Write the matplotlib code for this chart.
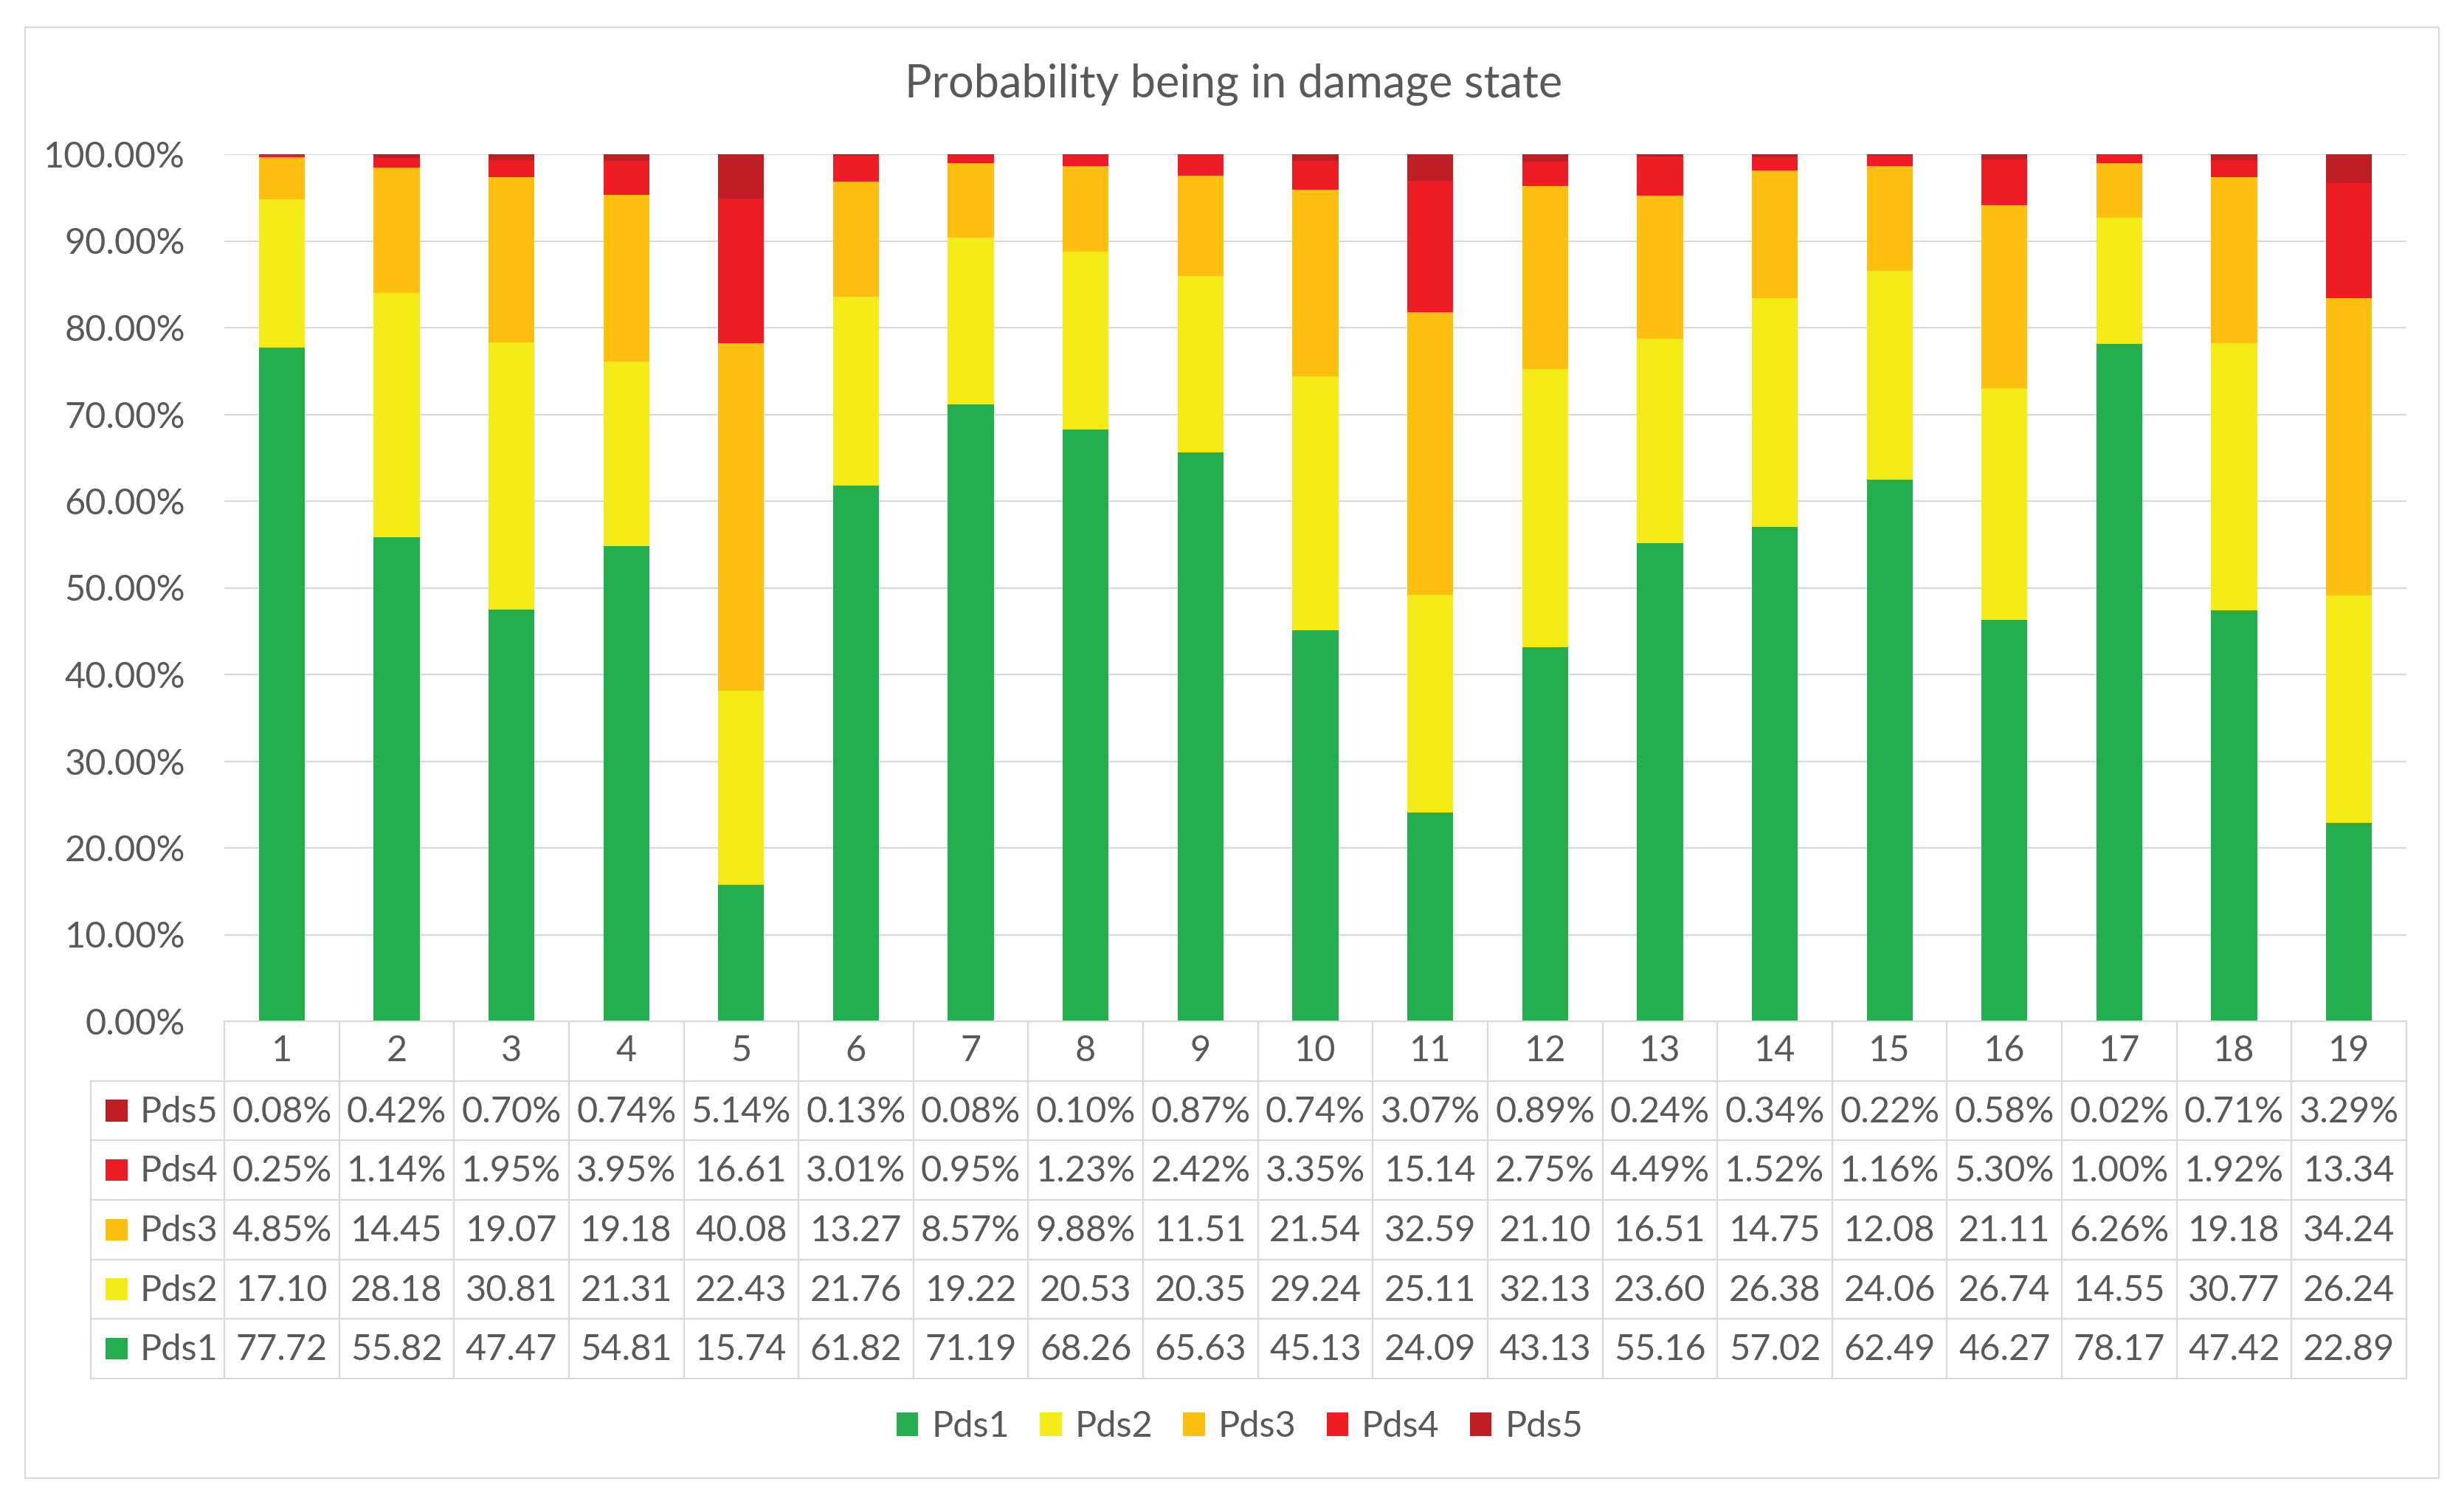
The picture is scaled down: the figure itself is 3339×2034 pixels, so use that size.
import matplotlib
matplotlib.use("Agg")
import numpy as np
from matplotlib import pyplot as plt
from matplotlib.patches import Rectangle

plt.rcParams['font.family'] = ['Lato', 'DejaVu Sans']

categories = [str(i) for i in range(1, 20)]
series_names = ["Pds1", "Pds2", "Pds3", "Pds4", "Pds5"]
pds1 = [77.72, 55.82, 47.47, 54.81, 15.74, 61.82, 71.19, 68.26, 65.63, 45.13,
        24.09, 43.13, 55.16, 57.02, 62.49, 46.27, 78.17, 47.42, 22.89]
pds2 = [17.10, 28.18, 30.81, 21.31, 22.43, 21.76, 19.22, 20.53, 20.35, 29.24,
        25.11, 32.13, 23.60, 26.38, 24.06, 26.74, 14.55, 30.77, 26.24]
pds3 = [4.85, 14.45, 19.07, 19.18, 40.08, 13.27, 8.57, 9.88, 11.51, 21.54,
        32.59, 21.10, 16.51, 14.75, 12.08, 21.11, 6.26, 19.18, 34.24]
pds4 = [0.25, 1.14, 1.95, 3.95, 16.61, 3.01, 0.95, 1.23, 2.42, 3.35,
        15.14, 2.75, 4.49, 1.52, 1.16, 5.30, 1.00, 1.92, 13.34]
pds5 = [0.08, 0.42, 0.70, 0.74, 5.14, 0.13, 0.08, 0.10, 0.87, 0.74,
        3.07, 0.89, 0.24, 0.34, 0.22, 0.58, 0.02, 0.71, 3.29]
yticks = list(range(0, 101, 10))

colors = ["#23AE50", "#F3EC19", "#FEC010", "#EE1D25", "#BF1E24"]
series = [pds1, pds2, pds3, pds4, pds5]

W, H = 3339, 2034
DPI = 200
TXT = "#595959"
GRID = "#D9D9D9"
FS = 17.5

fig = plt.figure(figsize=(W / DPI, H / DPI), dpi=DPI)

# outer chart border
fig.patches.append(Rectangle((34 / W, 1 - 2003 / H), (3305 - 34) / W, (2003 - 37) / H,
                             transform=fig.transFigure, fill=False,
                             edgecolor=GRID, linewidth=0.8))

x_left, x_right = 304, 3261
y_top, y_zero, y_bottom = 209, 1384, 1868

ax = fig.add_axes([x_left / W, 1 - y_zero / H, (x_right - x_left) / W, (y_zero - y_top) / H])
x = np.arange(len(categories))
bottom = np.zeros(len(categories))
for name, vals, c in zip(series_names, series, colors):
    ax.bar(x, vals, bottom=bottom, width=0.4, color=c, label=name, zorder=3)
    bottom += np.array(vals)

ax.set_xlim(-0.5, len(categories) - 0.5)
ax.set_ylim(0, 100)
ax.set_yticks(yticks)
ax.set_yticklabels([f"{t:.2f}%" for t in yticks], color=TXT, fontsize=FS)
ax.tick_params(axis='y', length=0, pad=19)
ax.set_xticks([])
ax.grid(axis='y', color=GRID, linewidth=0.8, zorder=0)
for s in ax.spines.values():
    s.set_visible(False)

fig.text(1672 / W, 1 - 114 / H, "Probability being in damage state",
         ha='center', va='center', fontsize=22, color=TXT)

# data table under the plot
tab = fig.add_axes([x_left / W, 1 - y_bottom / H, (x_right - x_left) / W, (y_bottom - y_zero) / H])
tab.set_xlim(ax.get_xlim())
tab.set_ylim(6, 0)
tab.axis('off')
n = len(categories)
label_w = 1.165
xl = -0.5 - label_w
lk = dict(color=GRID, linewidth=0.8, clip_on=False)
tab.plot([-0.5, n - 0.5], [0, 0], **lk)
for r in range(1, 7):
    tab.plot([xl, n - 0.5], [r, r], **lk)
for k in range(n + 1):
    tab.plot([k - 0.5, k - 0.5], [0, 6], **lk)
tab.plot([xl, xl], [1, 6], **lk)

for i, c in enumerate(categories):
    tab.text(i, 0.5, c, ha='center', va='center', fontsize=FS, color=TXT)


def fmt(v):
    return f"{v:.2f}%" if v < 10 else f"{v:.2f}"


rows = list(zip(series_names, series, colors))[::-1]
for r, (name, vals, c) in enumerate(rows, start=1):
    tab.add_patch(Rectangle((xl + 0.13, r + 0.5 - 0.18), 0.193, 0.36,
                            facecolor=c, edgecolor='none', clip_on=False))
    tab.text(xl + 0.43, r + 0.52, name, ha='left', va='center', fontsize=FS, color=TXT)
    for i, v in enumerate(vals):
        tab.text(i, r + 0.52, fmt(v), ha='center', va='center', fontsize=FS, color=TXT)

handles = [Rectangle((0, 0), 1, 1, facecolor=c, edgecolor='none') for c in colors]
fig.legend(handles, series_names, loc='center', bbox_to_anchor=(1680 / W, 1 - 1933 / H),
           ncol=5, frameon=False, fontsize=FS, labelcolor=TXT,
           handlelength=0.6, handleheight=0.62, handletextpad=0.37, columnspacing=0.85)

fig.savefig("out.png", dpi=DPI)
